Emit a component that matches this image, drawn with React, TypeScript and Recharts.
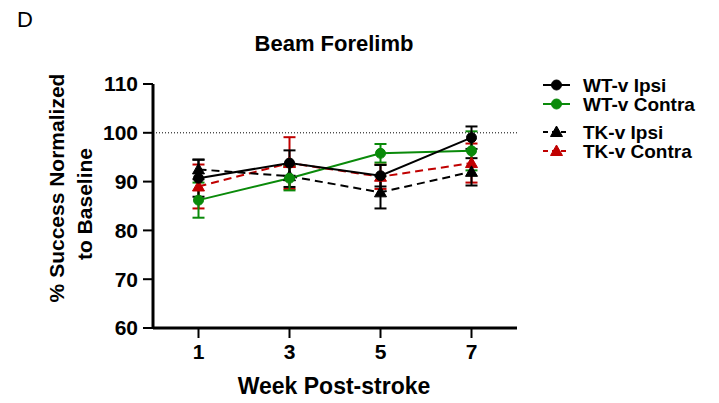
import { LineChart, Line, XAxis, YAxis, ErrorBar, ReferenceLine } from 'recharts'

const weeks = [1, 3, 5, 7]
const yTicks = [60, 70, 80, 90, 100, 110]

const wtIpsi = [90.7, 93.8, 91.2, 99.0]
const wtIpsiErr = [3.8, 2.6, 2.2, 2.3]
const wtContra = [86.2, 90.7, 95.8, 96.3]
const wtContraErr = [3.6, 2.5, 1.9, 4.0]
const tkIpsi = [92.5, 91.1, 87.8, 92.0]
const tkIpsiErr = [2.0, 2.2, 3.3, 2.8]
const tkContra = [89.0, 93.8, 91.0, 93.8]
const tkContraErr = [4.5, 5.3, 2.5, 4.0]

const FONT = '"Liberation Sans", Arial, Helvetica, sans-serif'

const series = [
  { key: 'tkContra', name: 'TK-v Contra', color: '#c00000', dashed: true, shape: 'triangle' },
  { key: 'tkIpsi', name: 'TK-v Ipsi', color: '#000000', dashed: true, shape: 'triangle' },
  { key: 'wtContra', name: 'WT-v Contra', color: '#0a8a0a', dashed: false, shape: 'circle' },
  { key: 'wtIpsi', name: 'WT-v Ipsi', color: '#000000', dashed: false, shape: 'circle' },
]

const legendOrder = ['wtIpsi', 'wtContra', 'tkIpsi', 'tkContra']
const legendY = [85, 104, 132, 151]

const data = weeks.map((w, i) => ({
  week: w,
  wtIpsi: wtIpsi[i],
  wtIpsiErr: wtIpsiErr[i],
  wtContra: wtContra[i],
  wtContraErr: wtContraErr[i],
  tkIpsi: tkIpsi[i],
  tkIpsiErr: tkIpsiErr[i],
  tkContra: tkContra[i],
  tkContraErr: tkContraErr[i],
}))

function Marker({ cx, cy, shape, color }: { cx: number; cy: number; shape: string; color: string }) {
  if (shape === 'circle') {
    return <circle cx={cx} cy={cy} r={5} fill={color} stroke={color} />
  }
  const s = 6
  const pts = `${cx},${cy - s} ${cx + s},${cy + s * 0.75} ${cx - s},${cy + s * 0.75}`
  return <polygon points={pts} fill={color} stroke={color} strokeWidth={1} />
}

const makeDot = (shape: string, color: string) => (props: any) => {
  const { cx, cy, index } = props
  if (cx == null || cy == null) return <g key={`d-${index}`} />
  return (
    <g key={`d-${shape}-${color}-${index}`}>
      <Marker cx={cx} cy={cy} shape={shape} color={color} />
    </g>
  )
}

const tickStyle = { fontFamily: FONT, fontWeight: 700, fontSize: 21, fill: '#000' }

export default function App() {
  return (
    <div style={{ position: 'absolute', left: 0, top: 0, width: 719, height: 403, background: '#fff' }}>
      <LineChart width={719} height={403} data={data} margin={{ top: 84, right: 202, bottom: 0, left: 0 }}>
        <XAxis
          dataKey="week"
          type="number"
          domain={[0, 8]}
          ticks={weeks}
          height={75}
          tickSize={10}
          tickMargin={6}
          axisLine={{ stroke: '#000', strokeWidth: 3 }}
          tickLine={{ stroke: '#000', strokeWidth: 2 }}
          tick={tickStyle}
        />
        <YAxis
          type="number"
          domain={[60, 110]}
          ticks={yTicks}
          width={153}
          tickSize={10}
          tickMargin={5}
          axisLine={{ stroke: '#000', strokeWidth: 3 }}
          tickLine={{ stroke: '#000', strokeWidth: 2 }}
          tick={tickStyle}
          interval={0}
        />
        <ReferenceLine y={100} stroke="#000" strokeWidth={1} strokeDasharray="1 2" />
        {series.map((s) => (
          <Line
            key={s.key}
            dataKey={s.key}
            type="linear"
            stroke={s.color}
            strokeWidth={2}
            strokeDasharray={s.dashed ? '8 5' : undefined}
            dot={makeDot(s.shape, s.color)}
            activeDot={false}
            isAnimationActive={false}
          >
            <ErrorBar dataKey={`${s.key}Err`} width={6} stroke={s.color} strokeWidth={2} direction="y" />
          </Line>
        ))}
      </LineChart>
      <svg
        width={719}
        height={403}
        style={{ position: 'absolute', left: 0, top: 0, pointerEvents: 'none' }}
        fontFamily={FONT}
      >
        <text x={17} y={27} fontSize={22} fill="#000">D</text>
        <text x={334} y={51} fontSize={22} fontWeight={700} textAnchor="middle" fill="#000">
          Beam Forelimb
        </text>
        <text
          x={56}
          y={188}
          fontSize={21}
          fontWeight={700}
          textAnchor="middle"
          dominantBaseline="central"
          transform="rotate(-90, 56, 188)"
          fill="#000"
        >
          % Success Normalized
        </text>
        <text
          x={84}
          y={204}
          fontSize={21}
          fontWeight={700}
          textAnchor="middle"
          dominantBaseline="central"
          transform="rotate(-90, 84, 204)"
          fill="#000"
        >
          to Baseline
        </text>
        <text x={334} y={394} fontSize={23} fontWeight={700} textAnchor="middle" fill="#000">
          Week Post-stroke
        </text>
        {legendOrder.map((k, i) => {
          const s = series.find((d) => d.key === k)!
          const y = legendY[i]
          return (
            <g key={k}>
              <line
                x1={543}
                x2={570}
                y1={y}
                y2={y}
                stroke={s.color}
                strokeWidth={2}
                strokeDasharray={s.dashed ? '5 4' : undefined}
              />
              <Marker cx={556.5} cy={y} shape={s.shape} color={s.color} />
              <text x={583} y={y + 7} fontSize={19} fontWeight={700} fill="#000">
                {s.name}
              </text>
            </g>
          )
        })}
      </svg>
    </div>
  )
}
